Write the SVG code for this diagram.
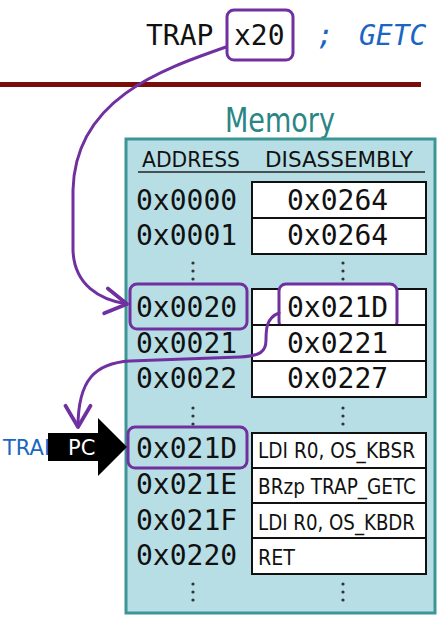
<svg xmlns="http://www.w3.org/2000/svg" width="441" height="619" viewBox="0 0 441 619">
<defs>
<style>
.mono{font-family:"DejaVu Sans Mono","Liberation Mono",monospace;font-size:28px;fill:#111}
.sans{font-family:"DejaVu Sans","Liberation Sans",sans-serif;font-size:21px;fill:#111}
.cell{fill:#fff;stroke:#111;stroke-width:2}
.hl{fill:none;stroke:#7030a0;stroke-width:3}
.wire{fill:none;stroke:#7030a0;stroke-width:3;stroke-linecap:round}
.dot{fill:#333}
</style>
<marker id="chev" markerUnits="userSpaceOnUse" markerWidth="30" markerHeight="30" viewBox="-20 -12 24 24" refX="0" refY="0" orient="auto">
<path d="M -17 -10 L 0 0 L -17 10" fill="none" stroke="#7030a0" stroke-width="3" stroke-linecap="round" stroke-linejoin="round"/>
</marker>
</defs>
<rect width="441" height="619" fill="#fff"/>

<g id="instruction">
<text class="mono" x="146" y="45">TRAP</text>
<rect x="227" y="10" width="66" height="50" rx="7" fill="#fff" stroke="#7030a0" stroke-width="3"/>
<text class="mono" x="234" y="45">x20</text>
<text class="mono" y="45" style="fill:#1a66c2;font-style:italic"><tspan x="317">;</tspan><tspan x="359">GETC</tspan></text>
</g>
<rect id="divider" x="0" y="82" width="421" height="5" fill="#7a0c0c"/>

<g id="memory">
<text x="225" y="132" font-family="DejaVu Sans, Liberation Sans, sans-serif" font-size="33" fill="#2a8585" textLength="110" lengthAdjust="spacingAndGlyphs">Memory</text>
<rect x="126" y="139" width="309" height="474" fill="#b8dee5" stroke="#3d9696" stroke-width="3"/>
<text class="sans" x="142" y="167" textLength="98" lengthAdjust="spacingAndGlyphs">ADDRESS</text>
<text class="sans" x="265" y="167" textLength="148" lengthAdjust="spacingAndGlyphs">DISASSEMBLY</text>
<line x1="138" y1="172" x2="425" y2="172" stroke="#222" stroke-width="1.5"/>
</g>

<g id="row-0000"><rect class="cell" x="252" y="182" width="174" height="36"/><text class="mono" x="136" y="210">0x0000</text><text class="mono" x="287" y="210">0x0264</text></g>
<g id="row-0001"><rect class="cell" x="252" y="218" width="174" height="36"/><text class="mono" x="136" y="245">0x0001</text><text class="mono" x="287" y="245">0x0264</text></g>
<g id="dots-1"><circle class="dot" cx="193" cy="263" r="1.6"/><circle class="dot" cx="193" cy="271" r="1.6"/><circle class="dot" cx="193" cy="279" r="1.6"/><circle class="dot" cx="343" cy="263" r="1.6"/><circle class="dot" cx="343" cy="271" r="1.6"/><circle class="dot" cx="343" cy="279" r="1.6"/></g>

<g id="row-0020"><rect class="cell" x="252" y="289" width="174" height="36"/><text class="mono" x="136" y="317">0x0020</text><rect x="130" y="284" width="117" height="45" rx="7" class="hl"/><rect x="279" y="284" width="118" height="45" rx="7" fill="#fff" stroke="#7030a0" stroke-width="3"/><text class="mono" x="287" y="317">0x021D</text></g>
<g id="row-0021"><rect class="cell" x="252" y="325" width="174" height="36"/><text class="mono" x="136" y="353">0x0021</text><text class="mono" x="287" y="353">0x0221</text></g>
<g id="row-0022"><rect class="cell" x="252" y="361" width="174" height="36"/><text class="mono" x="136" y="388">0x0022</text><text class="mono" x="287" y="388">0x0227</text></g>
<g id="dots-2"><circle class="dot" cx="193" cy="408" r="1.6"/><circle class="dot" cx="193" cy="416" r="1.6"/><circle class="dot" cx="193" cy="424" r="1.6"/><circle class="dot" cx="343" cy="408" r="1.6"/><circle class="dot" cx="343" cy="416" r="1.6"/><circle class="dot" cx="343" cy="424" r="1.6"/></g>

<g id="row-021D"><rect class="cell" x="252" y="433" width="174" height="35"/><text class="mono" x="136" y="458">0x021D</text><rect x="128" y="427" width="119" height="41" rx="7" class="hl"/><text class="sans" x="258" y="458" textLength="157" lengthAdjust="spacingAndGlyphs">LDI R0, OS_KBSR</text></g>
<g id="row-021E"><rect class="cell" x="252" y="468" width="174" height="35"/><text class="mono" x="136" y="494">0x021E</text><text class="sans" x="258" y="494" textLength="158" lengthAdjust="spacingAndGlyphs">BRzp TRAP_GETC</text></g>
<g id="row-021F"><rect class="cell" x="252" y="503" width="174" height="35"/><text class="mono" x="136" y="530">0x021F</text><text class="sans" x="258" y="530" textLength="157" lengthAdjust="spacingAndGlyphs">LDI R0, OS_KBDR</text></g>
<g id="row-0220"><rect class="cell" x="252" y="538" width="174" height="36"/><text class="mono" x="136" y="565">0x0220</text><text class="sans" x="258" y="565" textLength="37" lengthAdjust="spacingAndGlyphs">RET</text></g>
<g id="dots-3"><circle class="dot" cx="193" cy="584" r="1.6"/><circle class="dot" cx="193" cy="592" r="1.6"/><circle class="dot" cx="193" cy="600" r="1.6"/><circle class="dot" cx="343" cy="584" r="1.6"/><circle class="dot" cx="343" cy="592" r="1.6"/><circle class="dot" cx="343" cy="600" r="1.6"/></g>

<g id="pc">
<text class="sans" x="3" y="455" style="fill:#1a66c2">TRAP</text>
<polygon points="48,433 98,433 98,418 127,447 98,476 98,461 48,461" fill="#000"/>
<text class="sans" x="68" y="455" style="fill:#fff">PC</text>
</g>

<g id="connectors">
<path class="wire" d="M 226 47 C 160 70 75 100 73 190 L 73 250 C 74 285 100 300 127 304" marker-end="url(#chev)"/>
<path class="wire" d="M 279 313 C 266 318 266 330 266 340 C 266 352 260 356 240 357 L 130 361 C 95 363 78 380 78 427" marker-end="url(#chev)"/>
</g>
</svg>
